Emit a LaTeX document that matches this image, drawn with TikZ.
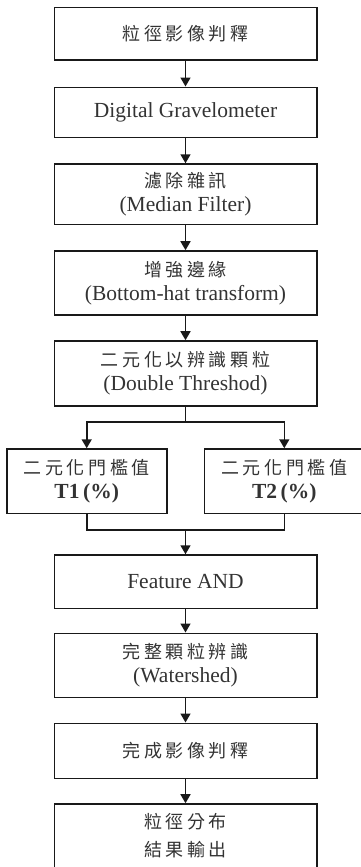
\documentclass[tikz,border=0pt]{standalone}
\usepackage{fontspec}
\setmainfont{Liberation Serif}
\newfontfamily\cjkfam[LetterSpace=20]{Noto Sans CJK TC}
\newcommand\cjtext[1]{{\fontsize{18}{24}\cjkfam #1}}
\usetikzlibrary{arrows.meta}
\definecolor{linec}{gray}{0.1}
\definecolor{textc}{gray}{0.2}
\begin{document}
\begin{tikzpicture}[x=1pt,y=-1pt,
  box/.style={draw=linec, line width=1.6pt, minimum width=262.4pt, inner sep=0pt,
    align=center, text=textc, font=\fontsize{21.5}{24}\selectfont},
  tbox/.style={box, minimum width=160pt, minimum height=64.3pt},
  conn/.style={draw=linec, line width=1.6pt},
  arr/.style={conn, -{Triangle[length=9pt,width=10pt]}}]
\useasboundingbox (0,0) rectangle (361,867);
\node[box, minimum height=52.7pt] (b1) at (185.5,33.7) {\cjtext{粒徑影像判釋}};
\node[box, minimum height=50pt] (b2) at (185.5,112.3) {Digital Gravelometer};
\node[box, minimum height=60.3pt] (b3) at (185.5,194.2) {\cjtext{濾除雜訊}\\(Median Filter)};
\node[box, minimum height=64pt] (b4) at (185.5,283) {\cjtext{增強邊緣}\\(Bottom-hat transform)};
\node[box, minimum height=65pt] (b5) at (185.5,373.5) {\cjtext{二元化以辨識顆粒}\\(Double Threshod)};
\node[tbox] (t1) at (86.7,481.2) {\cjtext{二元化門檻值}\\\textbf{T1\,(\%)}};
\node[tbox] (t2) at (284.3,481.2) {\cjtext{二元化門檻值}\\\textbf{T2\,(\%)}};
\node[box, minimum height=53.3pt] (b6) at (185.5,581.7) {Feature AND};
\node[box, minimum height=64pt] (b7) at (185.5,665.3) {\cjtext{完整顆粒辨識}\\(Watershed)};
\node[box, minimum height=55pt] (b8) at (185.5,750.8) {\cjtext{完成影像判釋}};
\node[box, minimum height=64pt] (b9) at (185.5,836) {\cjtext{粒徑分布}\\[4pt]\cjtext{結果輸出}};
\coordinate (s) at (185.5,421.7);
\coordinate (m) at (185.5,530);
\draw[arr] (b1) -- (b2);
\draw[arr] (b2) -- (b3);
\draw[arr] (b3) -- (b4);
\draw[arr] (b4) -- (b5);
\draw[conn] (b5.south) -- (s);
\draw[arr] (s) -| (t1.north);
\draw[arr] (s) -| (t2.north);
\draw[conn] (t1.south) |- (m);
\draw[conn] (t2.south) |- (m);
\draw[arr] (m) -- (b6);
\draw[arr] (b6) -- (b7);
\draw[arr] (b7) -- (b8);
\draw[arr] (b8) -- (b9);
\end{tikzpicture}
\end{document}
